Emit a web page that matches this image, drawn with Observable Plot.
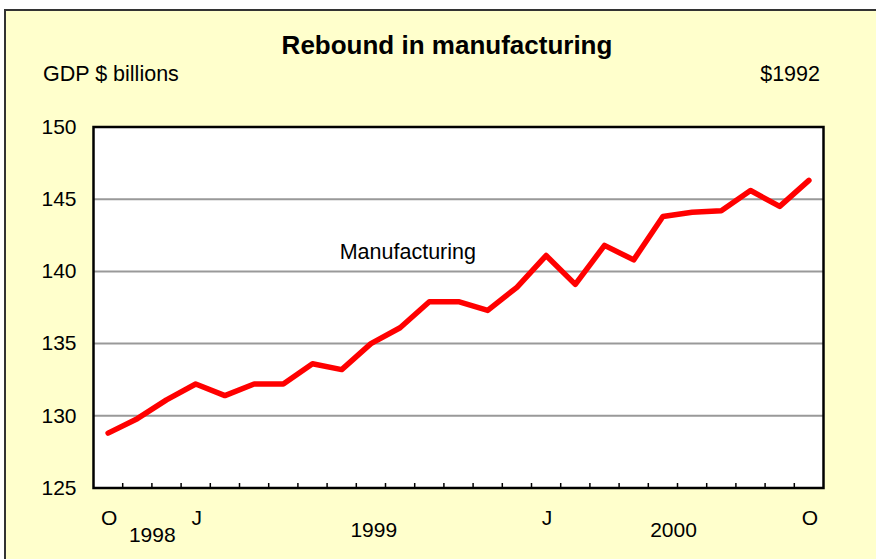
<!DOCTYPE html>
<html>
<head>
<meta charset="utf-8">
<script src="https://cdn.jsdelivr.net/npm/d3@7"></script>
<script src="https://cdn.jsdelivr.net/npm/@observablehq/plot@0.6"></script>
<style>
  html, body { margin: 0; padding: 0; background: #ffffff; width: 876px; height: 559px; overflow: hidden; }
  body { position: relative; font-family: "Liberation Sans", Arial, sans-serif; }
  #box { position: absolute; left: 4px; top: 9px; width: 900px; height: 600px; background: #FFFFCC; border: 2px solid #333; box-sizing: border-box; }
  .t { position: absolute; color: #000; white-space: nowrap; }
  #title { left: 247px; width: 400px; top: 32px; text-align: center; font-size: 26px; line-height: 26px; font-weight: bold; }
  #sub { left: 43px; top: 64px; font-size: 21.5px; line-height: 21px; }
  #unit { right: 56px; top: 64px; font-size: 21.5px; line-height: 21px; text-align: right; }
  #chart { position: absolute; left: 0; top: 0; }
</style>
</head>
<body>
<div id="box"></div>
<div id="title" class="t">Rebound in manufacturing</div>
<div id="sub" class="t">GDP $ billions</div>
<div id="unit" class="t">$1992</div>
<div id="chart"></div>
<script>
// Monthly manufacturing GDP, $1992 billions, Oct 1998 – Oct 2000
const months = ["1998-10","1998-11","1998-12",
  "1999-01","1999-02","1999-03","1999-04","1999-05","1999-06","1999-07","1999-08","1999-09","1999-10","1999-11","1999-12",
  "2000-01","2000-02","2000-03","2000-04","2000-05","2000-06","2000-07","2000-08","2000-09","2000-10"];
const gdp = [128.8, 129.8, 131.1, 132.2, 131.4, 132.2, 132.2, 133.6, 133.2, 135.0, 136.1, 137.9, 137.9,
  137.3, 138.9, 141.1, 139.1, 141.8, 140.8, 143.8, 144.1, 144.2, 145.6, 144.5, 146.3];
const yTicks = [125, 130, 135, 140, 145, 150];
const gridValues = [130, 135, 140, 145];
const letterMonths = ["1998-10", "1999-01", "2000-01", "2000-10"];
const letterLabels = ["O", "J", "J", "O"];
const years = ["1998", "1999", "2000"];
const seriesLabel = "Manufacturing";
const seriesLabelMonth = "1999-06";
const seriesLabelValue = 140.8;

const data = months.map((m, i) => ({i, month: m, value: gdp[i]}));
const idx = m => months.indexOf(m);
const boundaries = months.slice(1).map((m, i) => i + 0.5);
const yearCenter = y => d3.mean(months.map((m, i) => m.startsWith(y) ? i : null).filter(v => v !== null));
const yearDx = [15, 17.5, -4];
const yearDy = [39, 34, 34];
const font = "Liberation Sans, Arial, sans-serif";

const chart = Plot.plot({
  width: 876,
  height: 559,
  marginLeft: 93,
  marginRight: 53,
  marginTop: 126.5,
  marginBottom: 71.5,
  style: {background: "transparent", fontFamily: font, fontSize: "21px", color: "#000", overflow: "visible"},
  x: {type: "linear", domain: [-0.5, months.length - 0.5], axis: null, label: null},
  y: {domain: [125, 150], axis: null, label: null},
  marks: [
    Plot.frame({fill: "white", stroke: null}),
    Plot.ruleY(gridValues, {stroke: "#999999", strokeWidth: 2}),
    Plot.axisX(boundaries, {tickSize: -4.5, tickFormat: () => "", label: null, stroke: "#000", strokeWidth: 1.5, strokeOpacity: 1}),
    Plot.line(data, {x: "i", y: "value", stroke: "#ff0000", strokeWidth: 5.5, strokeLinecap: "round", strokeLinejoin: "round"}),
    Plot.frame({stroke: "#000", strokeWidth: 2.5}),
    Plot.axisY(yTicks, {tickSize: 0, tickPadding: 17, fontSize: 21, label: null, tickFormat: d => String(d)}),
    Plot.text(letterLabels, {x: (d, k) => idx(letterMonths[k]), text: d => d, frameAnchor: "bottom", lineAnchor: "top", dy: 22, fontSize: 21, dx: 1}),
    ...years.map((yr, k) => Plot.text([yr], {x: d => yearCenter(d), text: d => d, frameAnchor: "bottom", lineAnchor: "top", dy: yearDy[k], dx: yearDx[k], fontSize: 21})),
    Plot.text([seriesLabel], {x: () => idx(seriesLabelMonth), y: () => seriesLabelValue, text: d => d, textAnchor: "start", lineAnchor: "bottom", fontSize: 21.5, dy: -1, dx: -2})
  ]
});
document.getElementById("chart").appendChild(chart);
</script>
</body>
</html>
